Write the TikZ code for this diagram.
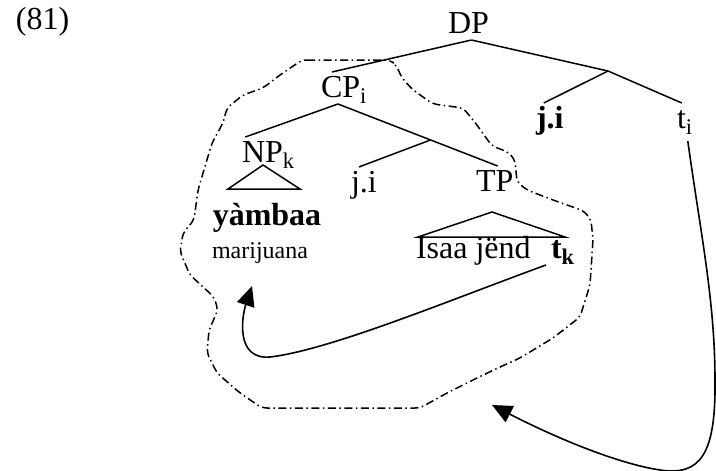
\documentclass[tikz,border=0pt]{standalone}
\usepackage{fontspec}
\setmainfont{Liberation Serif}
\usetikzlibrary{arrows.meta}

\begin{document}
\begin{tikzpicture}[x=1pt, y=-1pt,
  lab/.style={inner sep=0pt, outer sep=5pt, text height=20pt, text depth=2pt, anchor=base west, font=\fontsize{32}{38}\selectfont},
  gloss/.style={inner sep=0pt, outer sep=2pt, anchor=base, font=\fontsize{24}{28}\selectfont},
  branch/.style={line width=1.5pt},
  move/.style={line width=1.6pt, -{Triangle[length=20pt, width=18pt]}},
  contour/.style={line width=1.5pt, dash pattern=on 8pt off 3.5pt on 1.5pt off 3.5pt, rounded corners=5pt}]

\useasboundingbox (0, 0) rectangle (716, 471);

\node (ex) [lab] at (11, 30) {(81)};

\node (dp) [lab] at (443, 33) {DP};
\node (cp) [lab] at (316, 97) {CP\textsubscript{i}};
\node (jib) [lab, font=\fontsize{32}{38}\selectfont\bfseries] at (531, 128) {j.i};
\node (ti) [lab] at (672, 128) {t\textsubscript{i}};
\node (np) [lab] at (237, 162) {NP\textsubscript{k}};
\node (ji) [lab] at (346, 192) {j.i};
\node (tp) [lab] at (471, 191) {TP};

\node (yam) [lab, anchor=base, font=\fontsize{32}{38}\selectfont\bfseries] at (267, 225) {yàmbaa};
\node (mar) [gloss] at (260, 258) {marijuana};
\node (isa) [lab] at (411, 258) {Isaa jënd};
\node (tk) [lab, font=\fontsize{32}{38}\selectfont\bfseries] at (546, 258) {t\textsubscript{k}};

\coordinate (dpr) at (608, 71);
\draw [branch] ([xshift=3pt]dp.south) -- ([xshift=-12pt]cp.north);
\draw [branch] ([xshift=3pt]dp.south) -- (dpr);
\draw [branch] (dpr) -- ([xshift=-6pt]jib.north);
\draw [branch] (dpr) -- ([xshift=-3pt]ti.north);

\draw [branch] ([xshift=-6pt]cp.south) -- ([xshift=-23pt]np.north);
\draw [branch] ([xshift=-6pt]cp.south) -- coordinate[pos=0.58] (cbar) ([xshift=3pt]tp.north);
\draw [branch] (cbar) -- ([xshift=-5pt]ji.north);

\draw [branch] (228, 189) -- (263, 165) -- (300, 189) -- cycle;
\draw [branch] (418, 237) -- (492, 212) -- (565, 237) -- cycle;

\draw [contour] (302, 60) -- (390, 60) -- (396, 65) -- (402, 78) -- (413, 90) -- (433, 104) -- (463, 108) -- (474, 121) -- (492, 146) -- (508, 152) -- (515, 160) -- (517, 182) -- (527, 190) -- (553, 200) -- (584, 211) -- (591, 220) -- (593, 240) -- (590, 285) -- (580, 317) -- (553, 338) -- (520, 358) -- (500, 367) -- (477, 378) -- (447, 393) -- (420, 408) -- (262, 408) -- (240, 393) -- (217, 373) -- (207, 353) -- (209, 330) -- (218, 310) -- (214, 297) -- (190, 275) -- (180, 252) -- (183, 233) -- (194, 220) -- (198, 190) -- (212, 143) -- (223, 123) -- (227, 108) -- (243, 95) -- (263, 88) -- (280, 75) -- cycle;

\coordinate (npland) at (252, 286);
\coordinate (cpland) at (492, 405);
\draw [move] (tk.south west) .. controls (450, 300) and (330, 350) .. (270, 357) .. controls (235, 360) and (242, 316) .. (npland);
\draw [move] ([xshift=3pt, yshift=-6pt]ti.south) .. controls (700, 230) and (715, 300) .. (715, 380) .. controls (716, 455) and (700, 476) .. (660, 470) .. controls (620, 464) and (560, 440) .. (cpland);

\end{tikzpicture}
\end{document}
